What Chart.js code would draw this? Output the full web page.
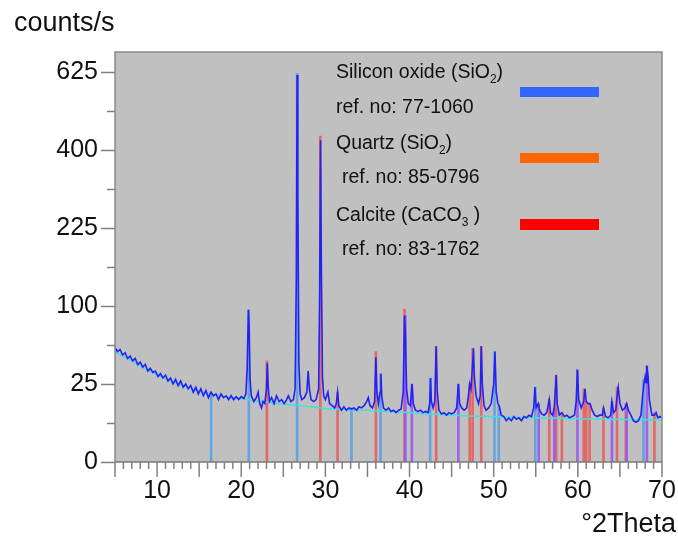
<!DOCTYPE html>
<html lang="en">
<head>
<meta charset="UTF-8">
<title>XRD pattern - counts/s vs °2Theta</title>
<script src="https://cdn.jsdelivr.net/npm/chart.js@4.4.0/dist/chart.umd.min.js"></script>
<style>
  body { margin: 0; background: #fff; }
  canvas { display: block; }
</style>
</head>
<body>
<canvas id="xrd" width="678" height="537"></canvas>
<script>
// measured pattern (°2Theta / counts per second)
const obsTheta = [
  5.0, 5.3, 5.6, 5.9, 6.2, 6.5, 6.8, 7.1, 7.4, 7.7,
  8.0, 8.3, 8.6, 8.9, 9.2, 9.5, 9.8, 10.1, 10.4, 10.7,
  11.0, 11.3, 11.6, 11.9, 12.2, 12.5, 12.8, 13.1, 13.4, 13.7,
  14.0, 14.3, 14.6, 14.9, 15.2, 15.5, 15.8, 16.1, 16.4, 16.7,
  17.0, 17.3, 17.6, 17.9, 18.2, 18.5, 18.8, 19.1, 19.4, 19.7,
  20.0, 20.3, 20.55, 20.7, 20.85, 20.95, 21.05, 21.2, 21.5, 21.8,
  22.0, 22.2, 22.4, 22.6, 22.8, 23.0, 23.1, 23.2, 23.35, 23.6,
  23.9, 24.2, 24.5, 24.8, 25.1, 25.4, 25.6, 25.9, 26.2, 26.4,
  26.55, 26.64, 26.72, 26.85, 27.0, 27.2, 27.5, 27.8, 27.95, 28.1,
  28.3, 28.6, 28.9, 29.2, 29.32, 29.42, 29.52, 29.65, 29.8, 30.0,
  30.3, 30.5, 30.8, 31.1, 31.3, 31.45, 31.6, 31.9, 32.2, 32.5,
  32.8, 33.1, 33.4, 33.7, 34.0, 34.3, 34.6, 34.9, 35.1, 35.3,
  35.6, 35.85, 36.0, 36.12, 36.3, 36.5, 36.6, 36.7, 36.9, 37.2,
  37.5, 37.8, 38.1, 38.4, 38.7, 39.0, 39.25, 39.4, 39.5, 39.65,
  39.85, 40.1, 40.3, 40.45, 40.7, 41.0, 41.3, 41.6, 41.9, 42.2,
  42.4, 42.5, 42.6, 42.8, 43.0, 43.16, 43.3, 43.5, 43.8, 44.1,
  44.4, 44.7, 45.0, 45.3, 45.6, 45.8, 45.95, 46.2, 46.5, 46.8,
  47.0, 47.15, 47.3, 47.5, 47.6, 47.7, 47.9, 48.2, 48.4, 48.52,
  48.65, 48.85, 49.1, 49.4, 49.7, 50.0, 50.15, 50.3, 50.5, 50.65,
  50.9, 51.2, 51.5, 51.8, 52.1, 52.4, 52.7, 53.0, 53.3, 53.6,
  53.9, 54.2, 54.5, 54.75, 54.9, 55.05, 55.3, 55.45, 55.7, 56.0,
  56.3, 56.6, 56.75, 57.0, 57.2, 57.42, 57.55, 57.8, 58.1, 58.4,
  58.7, 59.0, 59.3, 59.6, 59.8, 59.95, 60.1, 60.4, 60.7, 60.85,
  61.0, 61.2, 61.45, 61.7, 62.0, 62.3, 62.6, 62.9, 63.05, 63.3,
  63.6, 63.9, 64.05, 64.25, 64.5, 64.7, 64.8, 65.0, 65.3, 65.6,
  65.8, 66.0, 66.3, 66.6, 66.9, 67.2, 67.5, 67.7, 67.85, 68.0,
  68.1, 68.2, 68.35, 68.5, 68.8, 69.1, 69.3, 69.5, 69.75, 70.0
];
const obsCounts = [
  54, 50, 52, 47, 49, 44, 46, 42, 44, 39,
  41, 37, 39, 34, 36, 33, 34, 30, 32, 29,
  31, 27, 29, 25, 28, 24, 27, 23, 25, 22,
  24, 20, 23, 19, 22, 18, 21, 17, 20, 18,
  19, 16, 19, 17, 18, 16, 18, 16, 17.5, 16,
  17.5, 16.5, 19, 35, 95, 70, 28, 18, 15, 17,
  20, 14, 12, 15, 14, 22, 40, 24, 15, 17,
  14, 18, 15, 16, 14, 16, 18, 15, 16, 22,
  140, 615, 300, 40, 19, 16, 17, 20, 34, 22,
  16, 15, 16, 22, 120, 425, 160, 30, 18, 16,
  20, 14, 13, 12, 14, 20, 13, 11, 12.5, 11,
  12, 11.5, 12, 11, 12.5, 12, 13, 15, 17, 13,
  12, 15, 45, 20, 14, 20, 32, 18, 12, 11,
  12, 10.5, 11, 10, 11, 11.5, 20, 88, 70, 22,
  14, 13, 25, 14, 11, 10.5, 11, 10, 10.5, 10,
  14, 29, 15, 12, 15, 55, 20, 11, 9.5, 10,
  9, 10, 9.5, 10, 12, 25, 14, 12, 11, 12,
  18, 25, 22, 40, 53, 30, 18, 14, 18, 55,
  25, 13, 11, 12, 14, 25, 50, 20, 14, 13,
  9, 8.5, 7, 8, 7, 8.5, 7.5, 8, 7, 8.5,
  8, 9, 8.5, 12, 23, 12, 14, 11, 9.5, 9,
  10, 16, 10, 9, 12, 31, 14, 9, 10, 8.5,
  9, 8, 8.5, 9, 15, 35, 16, 12, 15, 22,
  15, 14, 14, 11, 9, 8.5, 9, 9, 12, 8.5,
  8, 9, 15, 10, 11, 20, 23, 14, 11, 12,
  14, 11, 9, 7, 6.5, 7, 9, 18, 25, 30,
  26, 38, 30, 16, 9, 9, 10, 8, 8.5, 8
];

// fitted background
const bgTheta = [5, 8, 10, 12, 15, 18, 20, 22, 25, 28, 30, 35, 40, 45, 50, 55, 60, 65, 70];
const bgCounts = [50, 38, 31, 26, 20.5, 17.5, 16.5, 15.2, 13.8, 12.6, 11.8, 11, 10, 9, 8.4, 8, 7.7, 7.4, 7.2];

// reference patterns (stick positions / heights)
const siO2Pos = [16.42, 20.9, 26.64, 33.1, 36.55, 42.45, 50.1, 50.6, 54.95, 67.8];
const siO2Int = [19, 95, 620, 12, 32, 29, 50, 13, 23, 28];
const quartzPos = [39.5, 40.28, 45.8, 55.35, 57.2, 59.95, 64.05, 65.8, 68.2];
const quartzInt = [88, 25, 25, 14, 12, 35, 15, 14, 38];
const calcitePos = [23.05, 29.4, 31.45, 36.0, 39.4, 43.16, 47.15, 47.5, 48.52, 56.6,
                    57.42, 58.1, 60.7, 61.0, 61.4, 63.05, 64.65, 65.7, 69.1];
const calciteInt = [42, 436, 20, 50, 96, 55, 25, 53, 55, 16,
                    31, 10, 22, 15, 14, 12, 23, 14, 10];

// axes
const xTickLabels = [10, 20, 30, 40, 50, 60, 70];
const yTickValues = [0, 25, 100, 225, 400, 625];
const yMinorValues = [6.25, 56.25, 156.25, 306.25, 506.25];

const FONT = '"Liberation Sans", Arial, Helvetica, sans-serif';

// square-root intensity axis
class SqrtScale extends Chart.LinearScale {
  buildTicks() {
    return yTickValues.map(v => ({ value: v }));
  }
  getPixelForValue(value) {
    const lo = Math.sqrt(this.min), hi = Math.sqrt(this.max);
    const s = Math.sqrt(Math.max(value, 0));
    return this.getPixelForDecimal((s - lo) / (hi - lo));
  }
  getValueForPixel(pixel) {
    const lo = Math.sqrt(this.min), hi = Math.sqrt(this.max);
    const s = lo + this.getDecimalForPixel(pixel) * (hi - lo);
    return s * s;
  }
}
SqrtScale.id = 'sqrt';
SqrtScale.defaults = Chart.LinearScale.defaults;
Chart.register(SqrtScale);

function toXY(xs, ys) {
  return xs.map((x, i) => ({ x: x, y: ys[i] }));
}

function drawRich(ctx, parts, x, y) {
  parts.forEach(p => {
    const sub = p[1];
    ctx.font = (sub ? '12px ' : '19.5px ') + FONT;
    ctx.fillText(p[0], x, sub ? y + 5 : y);
    x += ctx.measureText(p[0]).width;
  });
}

const framePlugin = {
  id: 'frame',
  beforeDraw(chart) {
    const { ctx, chartArea: a } = chart;
    ctx.save();
    ctx.fillStyle = '#c0c0c0';
    ctx.fillRect(a.left, a.top, a.right - a.left, a.bottom - a.top);
    ctx.restore();
  },
  afterDraw(chart) {
    const { ctx, chartArea: a } = chart;
    const xs = chart.scales.x, ys = chart.scales.y;
    ctx.save();
    // plot border
    ctx.strokeStyle = '#8a8a8a';
    ctx.lineWidth = 1.5;
    ctx.beginPath();
    ctx.moveTo(a.left, a.bottom);
    ctx.lineTo(a.left, a.top);
    ctx.lineTo(a.right, a.top);
    ctx.lineTo(a.right, a.bottom);
    ctx.stroke();
    ctx.strokeStyle = '#7a7a7a';
    ctx.beginPath();
    ctx.moveTo(a.left, a.bottom);
    ctx.lineTo(a.right, a.bottom);
    ctx.stroke();

    // tick marks
    ctx.strokeStyle = '#808080';
    ctx.beginPath();
    yTickValues.forEach(v => {
      const py = Math.round(ys.getPixelForValue(v)) + 0.5;
      ctx.moveTo(a.left - 14, py); ctx.lineTo(a.left, py);
    });
    yMinorValues.forEach(v => {
      const py = Math.round(ys.getPixelForValue(v)) + 0.5;
      ctx.moveTo(a.left - 8, py); ctx.lineTo(a.left, py);
    });
    for (let t = 5; t <= 70; t++) {
      const px = xs.getPixelForValue(t);
      ctx.moveTo(px, a.bottom); ctx.lineTo(px, a.bottom + (t % 5 === 0 ? 15 : 7));
    }
    ctx.stroke();

    // axis titles
    ctx.fillStyle = '#111';
    ctx.textBaseline = 'alphabetic';
    ctx.font = '27px ' + FONT;
    ctx.textAlign = 'left';
    ctx.fillText('counts/s', 14, 31);
    ctx.textAlign = 'right';
    ctx.fillText('°2Theta', 676, 532);

    // phase legend
    ctx.textAlign = 'left';
    drawRich(ctx, [['Silicon oxide (SiO'], ['2', true], [')']], 336, 78);
    drawRich(ctx, [['ref. no: 77-1060']], 336, 113);
    drawRich(ctx, [['Quartz (SiO'], ['2', true], [')']], 336, 149);
    drawRich(ctx, [['ref. no: 85-0796']], 342, 183);
    drawRich(ctx, [['Calcite (CaCO'], ['3', true], [' )']], 336, 221);
    drawRich(ctx, [['ref. no: 83-1762']], 342, 255);
    ctx.fillStyle = '#3366ff';
    ctx.fillRect(520, 87, 79, 10);
    ctx.fillStyle = '#ff6600';
    ctx.fillRect(520, 153, 79, 10);
    ctx.fillStyle = '#ff0000';
    ctx.fillRect(520, 219, 79, 11);
    ctx.restore();
  }
};

const stickStyle = { type: 'bar', barThickness: 2, grouped: false, borderWidth: 0 };

new Chart(document.getElementById('xrd'), {
  type: 'line',
  data: {
    datasets: [
      {
        label: 'Measured',
        data: toXY(obsTheta, obsCounts),
        borderColor: '#2222f4',
        borderWidth: 1.6,
        pointRadius: 0,
        tension: 0,
        order: 0
      },
      {
        label: 'Background',
        data: toXY(bgTheta, bgCounts),
        borderColor: '#3fe0e0',
        borderWidth: 1.5,
        pointRadius: 0,
        tension: 0.4,
        order: 1
      },
      Object.assign({ label: 'Silicon oxide', data: toXY(siO2Pos, siO2Int), backgroundColor: 'rgba(95,160,225,0.9)', order: 3 }, stickStyle),
      Object.assign({ label: 'Quartz', data: toXY(quartzPos, quartzInt), backgroundColor: 'rgba(150,90,240,0.9)', order: 2 }, stickStyle),
      Object.assign({ label: 'Calcite', data: toXY(calcitePos, calciteInt), backgroundColor: 'rgba(230,95,95,0.9)', order: 2 }, stickStyle)
    ]
  },
  options: {
    responsive: false,
    animation: false,
    layout: { padding: { top: 52, right: 16, left: 0, bottom: 0 } },
    plugins: {
      legend: { display: false },
      tooltip: { enabled: false }
    },
    scales: {
      x: {
        type: 'linear',
        min: 5,
        max: 70,
        offset: false,
        afterBuildTicks: s => { s.ticks = xTickLabels.map(v => ({ value: v })); },
        afterFit: s => { s.height = 75; s.paddingLeft = 0; s.paddingRight = 0; },
        grid: { display: false, drawTicks: false },
        border: { display: false },
        ticks: { padding: 14, color: '#111', font: { size: 25, family: FONT }, maxRotation: 0, autoSkip: false }
      },
      y: {
        type: 'sqrt',
        min: 0,
        max: 690,
        afterFit: s => { s.width = 115; s.paddingTop = 0; s.paddingBottom = 0; },
        grid: { display: false, drawTicks: false },
        border: { display: false },
        ticks: { padding: 17, color: '#111', font: { size: 25, family: FONT }, autoSkip: false }
      }
    }
  },
  plugins: [framePlugin]
});
</script>
</body>
</html>
